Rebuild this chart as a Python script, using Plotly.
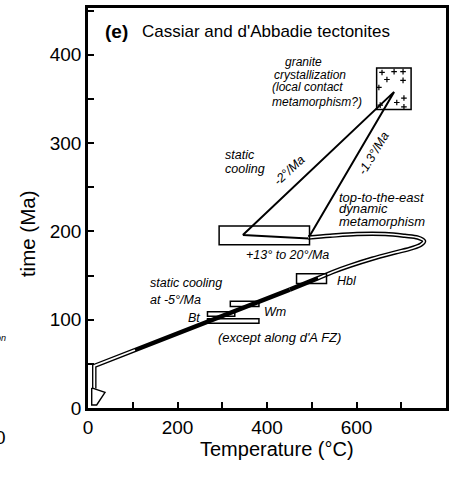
import plotly.graph_objects as go

# ---- T-t path data (temperature in °C, time in Ma) ----
# granite crystallization field
granite_T = [645, 722]
granite_t = [338, 385]
# stipple crosses inside the granite field
granite_dots_T = [657, 684, 704, 668, 704, 650, 706, 690, 706, 653]
granite_dots_t = [380, 381, 381, 372, 371, 363, 351, 346, 341, 343]

# static cooling wedge (-2°/Ma and -1.3°/Ma) from the granite to ~195 Ma
wedge_T = [346, 684, 492, 346]
wedge_t = [196, 358, 192, 196]

# top-to-the-east dynamic metamorphism loop, ending through the Hbl box
loop_T = [492, 541, 601, 664, 708, 737, 751, 744, 724, 686, 635, 585, 547, 514, 451]
loop_t = [193, 195, 197, 197, 195, 193, 189, 185, 181, 176, 169, 161, 154, 147, 134]

# static cooling at -5°/Ma, then exhumation to the surface
cool_T = [451, 14, 14]
cool_t = [134, 47.6, 22]
corner_T = [105, 14, 14]
corner_t = [65.7, 47.6, 22]

# arrow head at the surface
arrow_T = [8.3, 38, 19.4, 8.3, 8.3]
arrow_t = [22.7, 17.6, 3.4, 3.4, 22.7]

# age / closure-temperature boxes
box_names = ["metamorphism", "Hbl", "Wm", "Bt", "Wm-Bt"]
box_Tmin = [293, 466, 318, 267, 267]
box_Tmax = [495, 533, 382, 328, 382]
box_tmin = [185, 141, 115, 104, 96]
box_tmax = [206, 152, 121, 109, 101]

x_ticks = [0, 200, 400, 600, 800]
y_ticks = [0, 100, 200, 300, 400]

SANS = "Liberation Sans, Arial, Helvetica, sans-serif"
BLACK = "black"

fig = go.Figure()

for name, a, b, c, d in zip(box_names, box_Tmin, box_Tmax, box_tmin, box_tmax):
    fig.add_shape(type="rect", xref="x", yref="y", x0=a, x1=b, y0=c, y1=d,
                  line=dict(color=BLACK, width=1.5), fillcolor="rgba(0,0,0,0)")

fig.add_shape(type="rect", xref="x", yref="y",
              x0=granite_T[0], x1=granite_T[1], y0=granite_t[0], y1=granite_t[1],
              line=dict(color=BLACK, width=1.5))

fig.add_trace(go.Scatter(x=granite_dots_T, y=granite_dots_t, mode="markers",
                         marker=dict(symbol="cross-thin", size=4,
                                     line=dict(width=1.2, color=BLACK))))

# cooling wedge
fig.add_trace(go.Scatter(x=wedge_T, y=wedge_t, mode="lines",
                         line=dict(color=BLACK, width=2)))

# outlined band: black stroke with a white core
fig.add_trace(go.Scatter(x=loop_T, y=loop_t, mode="lines",
                         line=dict(color=BLACK, width=4.5, shape="spline", smoothing=1)))
fig.add_trace(go.Scatter(x=cool_T, y=cool_t, mode="lines",
                         line=dict(color=BLACK, width=4.5)))
fig.add_trace(go.Scatter(x=loop_T[:-1], y=loop_t[:-1], mode="lines",
                         line=dict(color="white", width=1.6, shape="spline", smoothing=1)))
fig.add_trace(go.Scatter(x=corner_T, y=corner_t, mode="lines",
                         line=dict(color="white", width=1.8)))
fig.add_trace(go.Scatter(x=arrow_T, y=arrow_t, mode="lines", fill="toself",
                         fillcolor="white", line=dict(color=BLACK, width=1.4)))


def label(text, x, y, anchor="left", angle=0, size=12.5):
    fig.add_annotation(x=x, y=y, xref="x", yref="y", text="<i>" + text + "</i>",
                       showarrow=False, xanchor=anchor, yanchor="middle",
                       textangle=angle,
                       font=dict(family=SANS, size=size, color=BLACK))


label("granite", 436, 392, size=12)
label("crystallization", 411, 377, size=12)
label("(local contact", 407, 363, size=12)
label("metamorphism?)", 407, 347, size=12)
label("static", 302, 287)
label("cooling", 302, 271)
label("-2°/Ma", 451, 269, anchor="center", angle=-43)
label("-1.3°/Ma", 637, 288, anchor="center", angle=-59)
label("top-to-the-east", 556, 238.5, size=13)
label("dynamic", 556, 225.5, size=13)
label("metamorphism", 556, 211, size=13)
label("+13° to 20°/Ma", 445, 173, anchor="center")
label("Hbl", 552, 144)
label("static cooling", 134, 141.6)
label("at -5°/Ma", 134, 122.4)
label("Wm", 389, 109)
label("Bt", 255, 102, anchor="right")
label("(except along d'A FZ)", 429, 80, anchor="center", size=13)

# panel heading
fig.add_annotation(x=33, y=426, xref="x", yref="y", text="<b>(e)</b>", showarrow=False,
                   xanchor="left", yanchor="middle",
                   font=dict(family=SANS, size=19, color=BLACK))
fig.add_annotation(x=116, y=426, xref="x", yref="y",
                   text="Cassiar and d'Abbadie tectonites", showarrow=False,
                   xanchor="left", yanchor="middle",
                   font=dict(family=SANS, size=17, color=BLACK))

# axis titles
fig.add_annotation(x=0.529, y=-0.1025, xref="paper", yref="paper",
                   text="Temperature (°C)", showarrow=False,
                   xanchor="center", yanchor="middle",
                   font=dict(family=SANS, size=20, color=BLACK))
fig.add_annotation(x=-0.169, y=0.436, xref="paper", yref="paper",
                   text="time (Ma)", showarrow=False, textangle=-90,
                   xanchor="center", yanchor="middle",
                   font=dict(family=SANS, size=20.5, color=BLACK))

# fragments of the neighbouring panel at the left edge
fig.add_annotation(x=-0.2235, y=0.176, xref="paper", yref="paper",
                   text="<i>on</i>", showarrow=False, xanchor="right", yanchor="middle",
                   font=dict(family=SANS, size=9, color=BLACK))
fig.add_annotation(x=-0.2458, y=-0.0738, xref="paper", yref="paper",
                   text="0", showarrow=False, xanchor="center", yanchor="middle",
                   font=dict(family=SANS, size=19, color=BLACK))

axis_common = dict(showline=True, linewidth=2.5, linecolor=BLACK, mirror=True,
                   ticks="inside", ticklen=6, tickwidth=2, tickcolor=BLACK,
                   showgrid=False, zeroline=False, automargin=False,
                   tickfont=dict(family=SANS, size=19, color=BLACK))

fig.update_xaxes(range=[0, 800], tickvals=x_ticks,
                 minor=dict(ticks="inside", dtick=100, tick0=0, ticklen=6,
                            tickwidth=2, tickcolor=BLACK),
                 **axis_common)
fig.update_yaxes(range=[0, 453], tickvals=y_ticks,
                 minor=dict(ticks="inside", dtick=50, tick0=0, ticklen=6,
                            tickwidth=2, tickcolor=BLACK),
                 **axis_common)

fig.update_layout(width=459, height=477, showlegend=False,
                  margin=dict(l=88, r=13, t=8, b=69),
                  plot_bgcolor="white", paper_bgcolor="white")

fig.write_html("out.html")
